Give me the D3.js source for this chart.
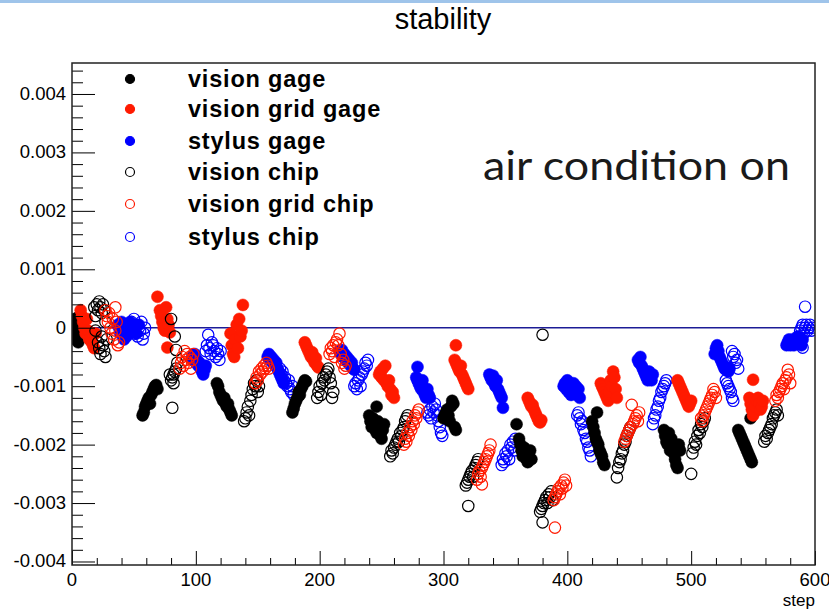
<!DOCTYPE html>
<html>
<head>
<meta charset="utf-8">
<script src="https://cdn.jsdelivr.net/npm/d3@7"></script>
<style>
  body { margin: 0; background: #fff; }
  text { font-family: "Liberation Sans", Arial, sans-serif; }
</style>
</head>
<body>
<div id="chart"></div>
<script>
// values are read in units of 0.001 (multiplied by UNIT when plotted)
var UNIT = 0.001;

var visionGage = [
  [1,0.1],[2,-0.05],[2,0.15],[3,-0.2],[3,0.05],[4,-0.1],[5,0.18],[5,-0.25],[6,0.0],
  [57,-1.5],[58,-1.45],[59,-1.35],[60,-1.3],[61,-1.25],[62,-1.2],[63,-1.3],[64,-1.15],[65,-1.1],[66,-1.05],[67,-1.0],[68,-0.98],[69,-1.05],
  [117,-0.95],[118,-1.0],[119,-1.1],[120,-1.15],[121,-1.2],[122,-1.25],[123,-1.2],[124,-1.3],[125,-1.35],[126,-1.3],[127,-1.4],[128,-1.45],[129,-1.5],
  [178,-1.45],[179,-1.38],[180,-1.3],[181,-1.25],[182,-1.2],[183,-1.1],[184,-1.15],[185,-1.05],[186,-1.0],[187,-0.95],[188,-0.9],[189,-0.92],
  [240,-1.5],[241,-1.6],[242,-1.7],[243,-1.55],[244,-1.65],[245,-1.75],[246,-1.35],[246,-1.8],[247,-1.6],[248,-1.7],[249,-1.85],[250,-1.9],[251,-1.75],[252,-1.65],
  [300,-1.55],[301,-1.5],[302,-1.45],[303,-1.4],[304,-1.5],[305,-1.6],[306,-1.35],[307,-1.25],[308,-1.3],[309,-1.7],[310,-1.75],
  [359,-1.65],[361,-1.9],[362,-2.0],[363,-2.1],[364,-2.2],[365,-2.05],[366,-2.15],[367,-2.25],[368,-2.3],[369,-2.2],[370,-2.1],[371,-2.25],
  [420,-1.6],[421,-1.7],[422,-1.8],[423,-1.9],[424,-1.45],[424,-1.95],[425,-2.0],[426,-2.1],[427,-2.15],[428,-2.2],[429,-2.3],[430,-2.35],
  [478,-1.75],[479,-1.85],[480,-1.95],[481,-2.0],[482,-1.8],[483,-2.1],[484,-1.9],[485,-2.05],[486,-2.15],[487,-2.25],[488,-2.35],[489,-2.4],[490,-2.0],[491,-2.1],
  [538,-1.75],[539,-1.8],[540,-1.85],[541,-1.9],[542,-1.95],[543,-2.0],[544,-2.05],[545,-2.1],[546,-2.15],[547,-2.2],[548,-1.55],[548,-2.25],[549,-2.3]
];

var visionGridGage = [
  [7,0.3],[8,0.2],[9,0.1],[10,0.0],[11,-0.1],[12,0.15],[13,-0.05],[14,-0.2],[15,-0.15],[16,-0.25],[17,-0.3],[18,-0.35],[19,-0.1],
  [69,0.53],[71,0.3],[72,0.2],[73,0.1],[74,0.0],[75,-0.05],[76,0.35],[77,0.15],[78,0.05],[79,-0.08],[77,-0.34],
  [128,-0.1],[129,-0.3],[130,-0.45],[131,-0.5],[132,-0.2],[133,0.05],[134,-0.35],[135,0.15],[136,-0.15],[137,-0.05],[138,0.39],
  [188,-0.25],[189,-0.3],[190,-0.35],[191,-0.4],[192,-0.45],[193,-0.5],[194,-0.42],[195,-0.55],[196,-0.6],[197,-0.52],[198,-0.65],[199,-0.68],
  [248,-0.8],[249,-0.75],[250,-0.85],[251,-0.7],[252,-0.9],[253,-0.65],[254,-0.95],[255,-1.0],[256,-0.9],[257,-1.05],[258,-1.15],[259,-1.1],[260,-1.2],
  [310,-0.3],[309,-0.55],[310,-0.6],[311,-0.65],[312,-0.7],[313,-0.75],[314,-0.65],[315,-0.8],[316,-0.85],[317,-0.9],[318,-0.95],[319,-1.0],[320,-1.05],
  [368,-1.2],[369,-1.25],[370,-1.3],[371,-1.35],[372,-1.32],[373,-1.4],[374,-1.45],[375,-1.5],[376,-1.55],[377,-1.6],[378,-1.62],[379,-1.58],
  [427,-0.95],[428,-1.0],[429,-1.05],[430,-1.1],[431,-1.15],[432,-1.2],[433,-1.25],[434,-1.1],[435,-0.9],[436,-1.0],[437,-0.75],[438,-0.85],[439,-1.05],[440,-1.2],
  [489,-0.9],[490,-0.95],[491,-1.0],[492,-1.05],[493,-1.1],[494,-1.15],[495,-1.2],[496,-1.25],[497,-1.3],[498,-1.35],[499,-1.3],[500,-1.25],
  [550,-0.89],[547,-1.2],[548,-1.3],[549,-1.4],[550,-1.5],[551,-1.45],[552,-1.35],[553,-1.25],[554,-1.2],[555,-1.3],[556,-1.4],[557,-1.35],[558,-1.25]
];

var stylusGage = [
  [37,0.05],[38,0.0],[39,-0.1],[40,0.1],[41,-0.05],[42,-0.2],[43,0.05],[44,-0.15],[45,0.0],[46,-0.1],[47,0.1],[48,-0.05],[50,0.0],[52,-0.1],[54,0.05],
  [97,-0.5],[98,-0.55],[99,-0.45],[100,-0.6],[101,-0.55],[102,-0.65],[103,-0.6],[104,-0.7],[105,-0.75],[106,-0.8],[107,-0.72],[108,-0.65],
  [158,-0.5],[159,-0.45],[160,-0.55],[161,-0.5],[162,-0.6],[163,-0.55],[164,-0.65],[165,-0.6],[166,-0.7],[167,-0.75],[168,-0.8],[169,-0.85],[170,-0.9],[171,-0.95],
  [216,-0.4],[217,-0.45],[218,-0.38],[219,-0.5],[220,-0.45],[221,-0.55],[222,-0.5],[223,-0.6],[224,-0.55],[225,-0.65],[226,-0.6],[227,-0.7],[228,-0.72],
  [279,-0.67],[278,-0.85],[279,-0.9],[280,-0.95],[281,-1.0],[282,-1.05],[283,-0.9],[284,-1.1],[285,-1.15],[286,-1.2],[287,-1.05],[288,-1.15],[289,-1.2],
  [337,-0.8],[338,-0.85],[339,-0.9],[340,-0.82],[341,-0.95],[342,-1.0],[343,-0.9],[344,-1.05],[345,-1.1],[346,-1.15],[347,-1.2],[348,-1.37],
  [397,-1.0],[398,-0.95],[399,-1.05],[400,-0.9],[401,-1.1],[402,-1.0],[403,-1.15],[404,-1.05],[405,-0.95],[406,-1.1],[407,-1.0],[408,-1.15],[409,-1.05],[410,-1.2],
  [457,-0.55],[458,-0.6],[459,-0.5],[460,-0.65],[461,-0.7],[462,-0.75],[463,-0.8],[464,-0.85],[465,-0.9],[466,-0.75],[467,-0.85],[468,-0.9],[469,-0.8],
  [519,-0.45],[520,-0.35],[521,-0.3],[522,-0.4],[523,-0.5],[524,-0.55],[525,-0.6],[526,-0.65],[527,-0.7],[528,-0.72],[529,-0.68],[530,-0.75],[531,-0.7],
  [577,-0.3],[578,-0.25],[579,-0.2],[580,-0.3],[581,-0.25],[582,-0.2],[583,-0.3],[584,-0.2],[585,-0.25],[586,-0.15],[587,-0.2],[588,-0.25],[589,-0.3],[590,-0.2]
];

var visionChip = [
  [18,0.35],[19,0.2],[20,0.4],[21,0.3],[22,0.45],[23,0.35],[24,0.25],[25,0.4],[26,0.3],[27,0.1],[24,-0.15],[21,-0.25],[22,-0.35],[23,-0.45],[25,-0.3],[26,-0.4],[27,-0.5],[28,-0.2],[19,-0.05],
  [80,0.15],[83,-0.15],[84,-0.38],[85,-0.6],[84,-0.7],[83,-0.75],[82,-0.8],[81,-0.85],[80,-0.9],[82,-0.95],[79,-0.8],[81,-1.37],
  [139,-1.6],[140,-1.55],[141,-1.45],[142,-1.35],[143,-1.5],[144,-1.25],[145,-1.15],[146,-1.05],[147,-0.95],[148,-1.0],[149,-0.9],[150,-1.1],[151,-1.0],
  [198,-1.2],[199,-1.1],[200,-1.0],[201,-1.15],[202,-0.95],[203,-0.85],[204,-0.9],[205,-0.8],[206,-0.75],[207,-0.7],[208,-0.85],[209,-0.95],[210,-1.2],[211,-1.1],
  [257,-2.2],[258,-2.1],[259,-2.15],[260,-2.05],[261,-2.0],[262,-1.95],[263,-1.9],[264,-1.95],[265,-1.8],[266,-1.85],[267,-1.75],[268,-1.7],[269,-1.6],[270,-1.55],[271,-1.5],
  [320,-3.05],[318,-2.7],[319,-2.65],[320,-2.6],[321,-2.55],[322,-2.5],[323,-2.45],[324,-2.55],[325,-2.4],[326,-2.35],[327,-2.3],[328,-2.25],
  [380,-0.12],[380,-3.33],[378,-3.15],[379,-3.1],[380,-3.05],[381,-3.0],[382,-2.95],[383,-2.9],[384,-3.0],[385,-2.85],[386,-2.9],[387,-2.8],[388,-2.95],
  [440,-2.56],[441,-2.4],[442,-2.3],[443,-2.25],[444,-2.15],[445,-2.1],[446,-2.0],[447,-1.95],[448,-1.85],[449,-1.8],[450,-1.75],[451,-1.7],
  [500,-2.5],[501,-2.15],[502,-2.05],[503,-1.95],[504,-2.0],[505,-1.85],[506,-1.75],[507,-1.8],[508,-1.65],[509,-1.7],[510,-1.6],[511,-1.55],
  [559,-1.95],[560,-1.85],[561,-1.9],[562,-1.8],[563,-1.75],[564,-1.7],[565,-1.65],[566,-1.55],[567,-1.5],[568,-1.45],[569,-1.4],[570,-1.5]
];

var visionGridChip = [
  [27,0.3],[28,0.2],[29,0.1],[30,0.25],[31,0.0],[32,-0.1],[33,0.15],[34,-0.2],[35,-0.05],[36,0.1],[37,-0.3],[38,-0.25],[35,0.35],
  [87,-0.7],[88,-0.6],[89,-0.5],[90,-0.65],[91,-0.4],[92,-0.55],[93,-0.45],[94,-0.6],[95,-0.5],[96,-0.7],[97,-0.55],[98,-0.45],
  [148,-0.95],[149,-0.85],[150,-0.9],[151,-0.75],[152,-0.8],[153,-0.7],[154,-0.75],[155,-0.65],[156,-0.7],[157,-0.6],[158,-0.65],[159,-0.7],
  [208,-0.45],[209,-0.35],[210,-0.4],[211,-0.3],[212,-0.5],[213,-0.25],[214,-0.2],[215,-0.3],[216,-0.1],[217,-0.45],[218,-0.6],[219,-0.55],[220,-0.7],[221,-0.65],
  [268,-2.0],[269,-1.9],[270,-1.95],[271,-1.8],[272,-1.85],[273,-1.7],[274,-1.75],[275,-1.6],[276,-1.65],[277,-1.5],[278,-1.55],[279,-1.45],[280,-1.4],
  [327,-2.6],[328,-2.5],[329,-2.45],[330,-2.55],[331,-2.4],[332,-2.35],[333,-2.3],[334,-2.25],[335,-2.2],[336,-2.15],[337,-2.1],[338,-2.0],[331,-2.68],
  [390,-3.42],[389,-2.95],[390,-2.9],[391,-2.85],[392,-2.8],[393,-2.75],[394,-2.85],[395,-2.7],[396,-2.75],[397,-2.65],[398,-2.6],[399,-2.7],
  [446,-1.95],[447,-1.9],[448,-1.85],[449,-1.8],[450,-1.75],[451,-1.7],[452,-1.32],[453,-1.65],[454,-1.6],[455,-1.55],[456,-1.5],[457,-1.6],[458,-1.45],
  [508,-1.55],[509,-1.6],[510,-1.5],[511,-1.45],[512,-1.4],[513,-1.35],[514,-1.3],[515,-1.25],[516,-1.2],[517,-1.15],[518,-1.05],[519,-1.1],[520,-1.2],
  [568,-1.25],[569,-1.15],[570,-1.2],[571,-1.1],[572,-1.05],[573,-1.0],[574,-0.95],[575,-1.05],[576,-0.9],[577,-0.85],[578,-0.72],[579,-0.8],[580,-0.95]
];

var stylusChip = [
  [48,0.1],[49,0.0],[50,0.15],[51,-0.1],[52,0.05],[53,-0.15],[54,0.0],[55,-0.05],[56,0.1],[57,-0.2],[58,-0.1],[59,0.0],
  [108,-0.4],[109,-0.3],[110,-0.12],[111,-0.35],[112,-0.45],[113,-0.25],[114,-0.3],[115,-0.4],[116,-0.5],[117,-0.35],[118,-0.45],[119,-0.55],[120,-0.4],
  [168,-0.7],[169,-0.8],[170,-0.75],[171,-0.9],[172,-0.85],[173,-0.95],[174,-1.0],[175,-0.9],[176,-1.05],[177,-1.1],[178,-1.0],[179,-1.15],
  [228,-1.0],[229,-0.95],[230,-1.05],[231,-0.9],[232,-0.85],[233,-1.0],[234,-0.8],[235,-0.75],[236,-0.7],[237,-0.6],[238,-0.65],[239,-0.55],
  [287,-1.45],[288,-1.5],[289,-1.4],[290,-1.55],[291,-1.35],[292,-1.45],[293,-1.3],[294,-1.4],[295,-1.5],[296,-1.6],[297,-1.7],[298,-1.8],[299,-1.85],
  [347,-2.35],[348,-2.25],[349,-2.3],[350,-2.15],[351,-2.2],[352,-2.1],[353,-2.25],[354,-2.0],[355,-2.05],[356,-1.95],[357,-2.1],[358,-1.9],
  [408,-1.5],[409,-1.45],[410,-1.55],[411,-1.65],[412,-1.6],[413,-1.75],[414,-1.8],[415,-1.9],[416,-1.95],[417,-2.05],[418,-2.1],[419,-2.2],
  [469,-1.65],[470,-1.55],[471,-1.5],[472,-1.4],[473,-1.35],[474,-1.25],[475,-1.2],[476,-1.1],[477,-1.05],[478,-1.0],[479,-0.95],[480,-0.9],
  [533,-0.4],[534,-0.5],[535,-0.45],[536,-0.6],[537,-0.55],[538,-0.7],[528,-0.9],[529,-0.95],[530,-1.0],[531,-1.05],[532,-1.1],[533,-1.2],[534,-1.25],
  [592,0.36],[590,-0.34],[588,-0.05],[589,0.0],[590,0.05],[591,-0.1],[592,0.0],[593,0.05],[594,-0.05],[595,0.0],[596,0.05],[597,-0.05],[598,0.0]
];

var xTicks = [0, 100, 200, 300, 400, 500, 600];
var yTicks = [-0.004, -0.003, -0.002, -0.001, 0, 0.001, 0.002, 0.003, 0.004];
var yTickLabels = ["-0.004", "-0.003", "-0.002", "-0.001", "0", "0.001", "0.002", "0.003", "0.004"];

var legendNames = ["vision gage", "vision grid gage", "stylus gage", "vision chip", "vision grid chip", "stylus chip"];
var legendColors = ["#000000", "#ff1a00", "#0000ff", "#000000", "#ff1a00", "#0000ff"];
var legendFilled = [true, true, true, false, false, false];

var width = 829, height = 611;
var margin = { top: 63, right: 14, bottom: 46, left: 72 };

var svg = d3.select("#chart").append("svg")
    .attr("width", width)
    .attr("height", height);

// slide border at the top
svg.append("rect").attr("x", 0).attr("y", 0).attr("width", width).attr("height", 3)
    .attr("fill", "#9fc4ea");

svg.append("text")
    .attr("x", 443).attr("y", 29)
    .attr("text-anchor", "middle")
    .style("font-size", "29px")
    .text("stability");

var x = d3.scaleLinear().domain([0, 600]).range([margin.left, width - margin.right]);
var y = d3.scaleLinear().domain([-0.00406, 0.00453]).range([height - margin.bottom, margin.top]);

var plot = svg.append("g");

// clip so markers stay inside the frame
svg.append("clipPath").attr("id", "frameClip").append("rect")
    .attr("x", margin.left).attr("y", margin.top)
    .attr("width", width - margin.left - margin.right)
    .attr("height", height - margin.top - margin.bottom);

// zero line
plot.append("line")
    .attr("x1", x(0)).attr("x2", x(600))
    .attr("y1", y(0)).attr("y2", y(0))
    .attr("stroke", "#1c1c96")
    .attr("stroke-width", 1.6);

var markers = plot.append("g").attr("clip-path", "url(#frameClip)");

function drawSeries(data, color, filled) {
    markers.append("g").selectAll("circle")
        .data(data)
        .enter().append("circle")
        .attr("cx", d => x(d[0]))
        .attr("cy", d => y(d[1] * UNIT))
        .attr("r", filled ? 6 : 5.7)
        .attr("fill", filled ? color : "none")
        .attr("stroke", color)
        .attr("stroke-width", filled ? 0.5 : 1.2);
}

drawSeries(stylusChip, legendColors[5], false);
drawSeries(visionGage, legendColors[0], true);
drawSeries(visionGridGage, legendColors[1], true);
drawSeries(stylusGage, legendColors[2], true);
drawSeries(visionChip, legendColors[3], false);
drawSeries(visionGridChip, legendColors[4], false);

// axes (ROOT style: ticks inside the frame)
var xAxis = d3.axisTop(x).tickValues(d3.range(0, 601, 20)).tickSize(7).tickFormat("");
svg.append("g")
    .attr("transform", "translate(0," + (height - margin.bottom) + ")")
    .call(xAxis)
    .call(g => g.select(".domain").remove())
    .call(g => g.selectAll(".tick line").attr("stroke", "#000")
        .attr("y2", d => xTicks.indexOf(d) >= 0 ? -14 : -7));

svg.append("g").selectAll("text")
    .data(xTicks)
    .enter().append("text")
    .attr("x", d => x(d))
    .attr("y", 586)
    .attr("text-anchor", "middle")
    .style("font-size", "18.5px")
    .text(d => d);

var yAxis = d3.axisRight(y).tickValues(d3.range(-20, 23).map(i => i * 0.0002)).tickSize(11).tickFormat("");
svg.append("g")
    .attr("transform", "translate(" + margin.left + ",0)")
    .call(yAxis)
    .call(g => g.select(".domain").remove())
    .call(g => g.selectAll(".tick line").attr("stroke", "#000")
        .attr("x2", (d, i) => (i % 5 === 0) ? 23 : 11));

svg.append("g").selectAll("text")
    .data(yTicks)
    .enter().append("text")
    .attr("x", 66)
    .attr("y", d => y(d) + 6)
    .attr("text-anchor", "end")
    .style("font-size", "18.5px")
    .text((d, i) => yTickLabels[i]);

svg.append("text")
    .attr("x", 815).attr("y", 606)
    .attr("text-anchor", "end")
    .style("font-size", "17px")
    .text("step");

// frame
svg.append("rect")
    .attr("x", margin.left).attr("y", margin.top)
    .attr("width", width - margin.left - margin.right)
    .attr("height", height - margin.top - margin.bottom)
    .attr("fill", "none")
    .attr("stroke", "#222")
    .attr("stroke-width", 1.5);

// legend
var legendY = [79, 109, 141, 172, 204, 237];
var legend = svg.append("g");
legendNames.forEach(function (name, i) {
    legend.append("circle")
        .attr("cx", 130).attr("cy", legendY[i])
        .attr("r", 4.5)
        .attr("fill", legendFilled[i] ? legendColors[i] : "none")
        .attr("stroke", legendColors[i])
        .attr("stroke-width", 1.2);
    legend.append("text")
        .attr("x", 188).attr("y", legendY[i] + 7.5)
        .style("font-size", "23.5px")
        .style("font-weight", "bold")
        .style("letter-spacing", "0.8px")
        .text(name);
});

svg.append("text")
    .attr("x", 483).attr("y", 180)
    .attr("textLength", 307)
    .attr("lengthAdjust", "spacingAndGlyphs")
    .style("font-family", "Lato, 'Open Sans', sans-serif")
    .style("font-size", "40px")
    .attr("fill", "#1a1a1a")
    .text("air condition on");
</script>
</body>
</html>
